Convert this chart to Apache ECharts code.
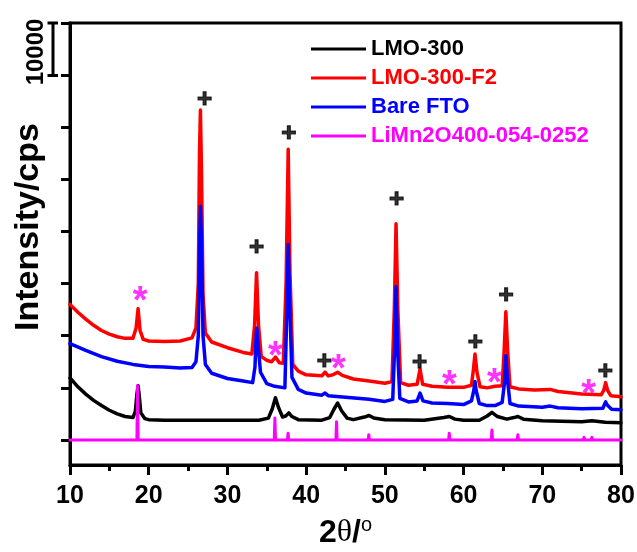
<!DOCTYPE html>
<html>
<head>
<meta charset="utf-8">
<script src="https://cdn.jsdelivr.net/npm/echarts@6/dist/echarts.min.js"></script>
<style>html,body{margin:0;padding:0;background:#fff;}#c{width:637px;height:552px;}</style>
</head>
<body>
<div id="c"></div>
<script>
const seriesNames = ['LMO-300', 'LMO-300-F2', 'Bare FTO', 'LiMn2O400-054-0252'];
const xTicks = [10, 20, 30, 40, 50, 60, 70, 80];
const yTicks = [0, 10000, 20000, 30000, 40000, 50000, 60000, 70000, 80000];
const scaleBarLabel = '10000';
const yTitle = 'Intensity/cps';

const lmo300 = [[10,11900],[11,10200],[12,8800],[13,7600],[14,6600],[15,5700],[16,5000],[17,4500],[18,4300],[18.3,5500],[18.5,8800],[18.65,10400],[18.8,8500],[19.0,5200],[19.5,4100],[20,3900],[22,3800],[25,3800],[30,3800],[34,3800],[35.2,4200],[35.7,6000],[36.1,8100],[36.5,6200],[37.0,4400],[37.4,4600],[37.8,5200],[38.2,4500],[39,3900],[42,3800],[43.0,4300],[43.5,5800],[44.0,7100],[44.5,5600],[45.2,4200],[46,3900],[47.4,4400],[48.0,4700],[48.6,4200],[50,3900],[55,3800],[57.5,4300],[58.2,4500],[58.9,4000],[60,3800],[62,3800],[63.0,4600],[63.6,5300],[64.3,4500],[65.5,4000],[66.4,4300],[66.9,4500],[67.6,4000],[70,3700],[75,3500],[76.3,3700],[78,3400],[80,3300]];

const lmo300F2 = [[10,26000],[11,24500],[12,23200],[13,22000],[14,21000],[15,20300],[16,19800],[17,19500],[18.0,19500],[18.4,21500],[18.65,25200],[18.9,21000],[19.3,19300],[20,19000],[22,18900],[24,19000],[25.5,19600],[26.0,21500],[26.3,30000],[26.45,55000],[26.57,63300],[26.7,52000],[26.9,28000],[27.2,20500],[28,18800],[30,17700],[32,16800],[33.1,16500],[33.45,22000],[33.7,32100],[33.95,22000],[34.3,16000],[35,15300],[35.6,15000],[36.1,15900],[36.6,14800],[37.1,14700],[37.45,30000],[37.72,55800],[37.95,32000],[38.3,14500],[39,13200],[40,12500],[42,12300],[42.4,13000],[42.8,12300],[43.4,12500],[44.0,13000],[44.6,12400],[46,11700],[48,11300],[50,10900],[50.9,11200],[51.2,25000],[51.42,41500],[51.65,25000],[52,11000],[53,10500],[54.1,10700],[54.47,13600],[54.8,10700],[56,10300],[58,10100],[60,10100],[61.0,10500],[61.25,13500],[61.45,16500],[61.7,13000],[62.1,10200],[63,10000],[64,10300],[64.9,10400],[65.15,17000],[65.37,24600],[65.6,17000],[65.9,10200],[67,9800],[69,9600],[71,9700],[72,9300],[75,8800],[77.5,8700],[77.8,9500],[78.05,11000],[78.3,9500],[78.7,8500],[80,8300]];

const bareFTO = [[10,18500],[12,17200],[14,16000],[16,15100],[18,14500],[20,14100],[22,14000],[24,13800],[25.5,13900],[26.0,15000],[26.3,20000],[26.47,38000],[26.57,44800],[26.7,38000],[26.9,20000],[27.2,14500],[28,12800],[30,11800],[32,11300],[33.2,11000],[33.5,14000],[33.65,20000],[33.72,21500],[33.85,19000],[34.2,13000],[35,10800],[36,10300],[37.3,10000],[37.55,25000],[37.72,37500],[37.9,27000],[38.2,12000],[39,9700],[40,9000],[42,8600],[42.4,9000],[42.8,8500],[45,8200],[48,7800],[50,7400],[51.0,7800],[51.25,18000],[51.42,29400],[51.6,18000],[51.9,8000],[53,7300],[54.1,7500],[54.47,9000],[54.85,7500],[56,7100],[58,7000],[60,6800],[61.0,7500],[61.3,9500],[61.45,11200],[61.6,9500],[62.0,7000],[63,6600],[64,6600],[64.9,7200],[65.2,11000],[65.37,16200],[65.55,12000],[65.9,7000],[67,6500],[70,6300],[71,6500],[72,6200],[75,6000],[77.7,6100],[77.9,6800],[78.05,7300],[78.25,6700],[78.8,5900],[80,5800]];

const refPattern = [[10,0],[18.5,0],[18.58,10400],[18.66,0],[35.95,0],[36.03,4200],[36.11,0],[37.62,0],[37.7,1300],[37.78,0],[43.78,0],[43.86,3500],[43.94,0],[47.88,0],[47.96,1000],[48.04,0],[58.1,0],[58.18,1300],[58.26,0],[63.52,0],[63.6,1900],[63.68,0],[66.82,0],[66.9,1000],[66.98,0],[75.2,0],[75.3,500],[75.4,0],[76.2,0],[76.3,500],[76.4,0],[80,0]];

const plusMarks = [[27.1,65200],[37.8,58650],[33.7,36900],[42.3,15000],[51.5,46000],[54.4,14800],[61.5,18650],[65.4,27700],[78.0,13100]];
const starMarks = [[18.9,27900],[36.1,17300],[44.1,14800],[58.2,11700],[63.9,12100],[75.9,10000]];

const colors = ['#000000', '#ff0000', '#0000ff', '#ff00ff'];
const FONT = '"Liberation Sans", Arial, sans-serif';

const chart = echarts.init(document.getElementById('c'), null, {renderer: 'canvas'});

function lineSeries(name, data, color, width) {
  return {
    name: name, type: 'line', data: data, showSymbol: false, symbol: 'none',
    lineStyle: {color: color, width: width, join: 'round', cap: 'round'}, itemStyle: {color: color},
    animation: false, z: 2
  };
}

const option = {
  animation: false,
  backgroundColor: '#fff',
  grid: {left: 70, right: 16, top: 23, bottom: 87, outerBoundsMode: 'none', containLabel: false, show: true, borderColor: '#000', borderWidth: 3, backgroundColor: 'transparent'},
  legend: {
    orient: 'vertical', left: 306, top: 33, itemWidth: 55, itemHeight: 3, itemGap: 7,
    icon: 'rect',
    textStyle: {fontFamily: FONT, fontWeight: 'bold', fontSize: 22, lineHeight: 22},
    data: seriesNames.map((n, i) => ({name: n, textStyle: {color: colors[i]}}))
  },
  xAxis: {
    type: 'value', min: xTicks[0], max: xTicks[xTicks.length - 1], interval: 10,
    axisLine: {show: true, onZero: false, lineStyle: {color: '#000', width: 3}},
    axisTick: {show: true, inside: false, length: 10, lineStyle: {color: '#000', width: 3}},
    minorTick: {show: true, splitNumber: 2, length: 6, lineStyle: {color: '#000', width: 3}},
    splitLine: {show: false},
    axisLabel: {fontFamily: FONT, fontWeight: 'bold', fontSize: 25, color: '#000', margin: 19},
    name: '{a|2}{t|θ}{a|/}{s|o}', nameLocation: 'middle', nameGap: 50,
    nameTextStyle: {
      rich: {
        a: {fontFamily: FONT, fontWeight: 'bold', fontSize: 32, color: '#000'},
        t: {fontFamily: '"Liberation Serif", serif', fontSize: 32, color: '#000'},
        s: {fontFamily: FONT, fontSize: 20, color: '#000', verticalAlign: 'top', padding: [0, 0, 16, 0]}
      }
    }
  },
  yAxis: {
    type: 'value', min: -4800, max: 80000,
    axisLine: {show: true, onZero: false, lineStyle: {color: '#000', width: 3}},
    axisTick: {show: true, inside: false, length: 9, customValues: yTicks, lineStyle: {color: '#000', width: 3}},
    axisLabel: {show: false},
    splitLine: {show: false}
  },
  graphic: [
    {type: 'line', shape: {x1: 53, y1: 23, x2: 53, y2: 75.5}, style: {stroke: '#000', lineWidth: 3}},
    {type: 'line', shape: {x1: 47.5, y1: 23, x2: 58, y2: 23}, style: {stroke: '#000', lineWidth: 3}},
    {type: 'line', shape: {x1: 47.5, y1: 75.5, x2: 58, y2: 75.5}, style: {stroke: '#000', lineWidth: 3}},
    {type: 'text', x: 36, y: 52, rotation: Math.PI / 2, style: {text: scaleBarLabel, font: 'bold 24px ' + FONT, fill: '#000', align: 'center', verticalAlign: 'middle'}},
    {type: 'text', x: 29, y: 227, rotation: Math.PI / 2, style: {text: yTitle, font: 'bold 34px ' + FONT, fill: '#000', align: 'center', verticalAlign: 'middle'}}
  ],
  series: [
    lineSeries(seriesNames[0], lmo300, colors[0], 3.5),
    lineSeries(seriesNames[1], lmo300F2, colors[1], 3.5),
    lineSeries(seriesNames[2], bareFTO, colors[2], 3.5),
    lineSeries(seriesNames[3], refPattern, colors[3], 3),
    {
      type: 'scatter', data: plusMarks, symbolSize: 0, silent: true, z: 5,
      label: {show: true, position: 'inside', formatter: '+', fontFamily: FONT, fontWeight: 'bold', fontSize: 26, color: '#000', textBorderColor: '#000', textBorderWidth: 1.2, offset: [0, 0]}
    },
    {
      type: 'scatter', data: starMarks, symbolSize: 0, silent: true, z: 5,
      label: {show: true, position: 'inside', formatter: '*', fontFamily: FONT, fontWeight: 'bold', fontSize: 38, color: '#ff00ff', offset: [0, 8]}
    }
  ]
};
chart.setOption(option);
</script>
</body>
</html>
